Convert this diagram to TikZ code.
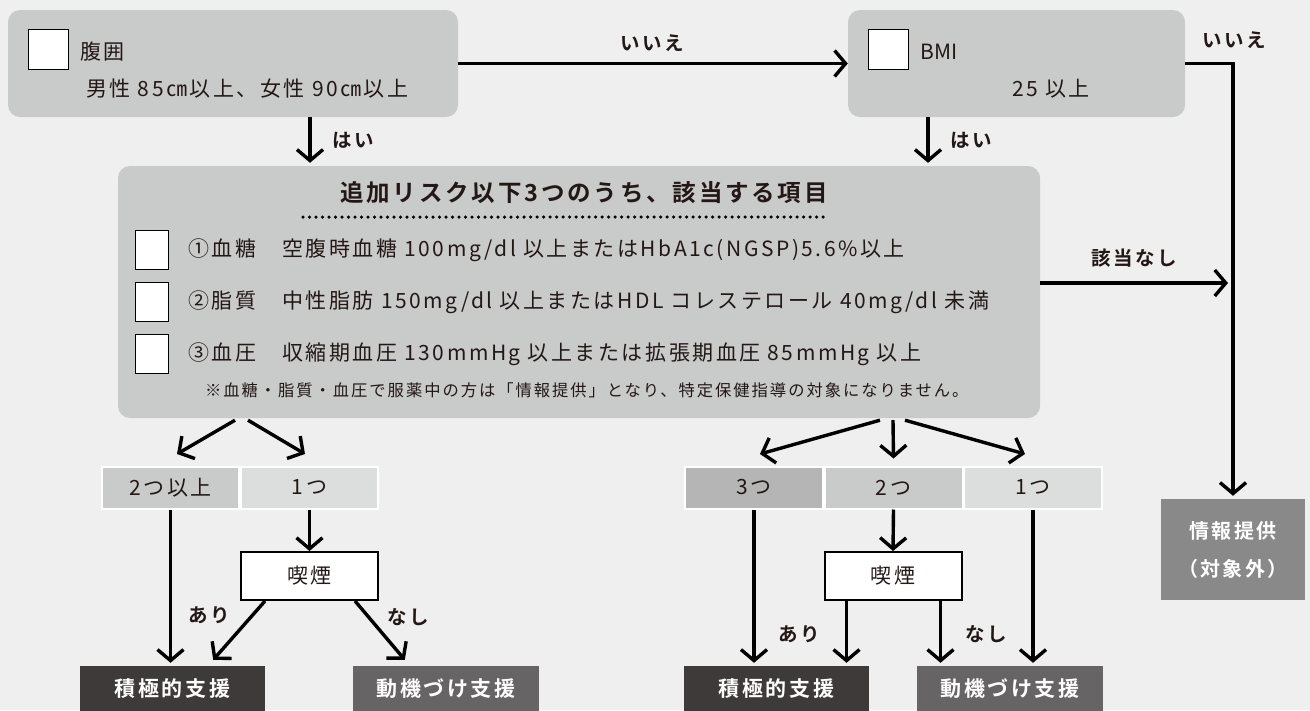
\documentclass[tikz,border=0pt]{standalone}
\usepackage{fontspec}
\setmainfont{Noto Sans CJK JP}[BoldFont={Noto Sans CJK JP Bold}, LetterSpace=12]
\newfontfamily\latnospace{Noto Sans CJK JP}[LetterSpace=2]
\usetikzlibrary{arrows.meta,calc}
\definecolor{bgc}{HTML}{EFEFEF}
\definecolor{boxg}{HTML}{C9CACA}
\definecolor{cdark}{HTML}{B5B5B6}
\definecolor{cmid}{HTML}{C9CACA}
\definecolor{clight}{HTML}{DCDDDD}
\definecolor{sekc}{HTML}{3E3A39}
\definecolor{douc}{HTML}{666464}
\definecolor{infoc}{HTML}{898989}
\definecolor{ink}{HTML}{231815}
\begin{document}
\begin{tikzpicture}[x=1pt,y=-1pt,
  arr/.style={line width=3.4pt, draw=black, -{Straight Barb[length=11pt,width=26pt]}},
  gbox/.style={fill=boxg, rounded corners=12pt, inner sep=0pt},
  cbox/.style={draw=black, fill=white, line width=1.6pt, minimum width=40pt, minimum height=40pt, inner sep=0pt},
  cboxs/.style={draw=black, fill=white, line width=1.6pt, minimum width=33pt, minimum height=39pt, inner sep=0pt},
  txt/.style={inner sep=0pt, text=ink, font=\fontsize{21pt}{25pt}\selectfont},
  ttl/.style={inner sep=0pt, text=ink, font=\fontsize{23.5pt}{27pt}\selectfont\bfseries},
  lbl/.style={inner sep=0pt, text=ink, font=\fontsize{19.5pt}{23pt}\selectfont\bfseries},
  cell/.style={draw=white, line width=2pt, minimum height=42pt, inner sep=0pt, text=ink, font=\fontsize{21pt}{25pt}\selectfont},
  smoke/.style={draw=black, fill=white, line width=2pt, minimum width=137pt, minimum height=48pt, inner sep=0pt, text=ink, font=\fontsize{21pt}{25pt}\selectfont},
  res/.style={minimum height=46pt, inner sep=0pt, text=white, font=\fontsize{21pt}{25pt}\selectfont\bfseries},
  dotline/.style={line width=3.5pt, line cap=round, dash pattern=on 0pt off 6.5pt}
]
\useasboundingbox (0,0) rectangle (1310,710);
\fill[bgc] (0,0) rectangle (1310,710);

% top boxes
\node[gbox, minimum width=450pt, minimum height=107pt] (waist) at (233,63.5) {};
\node[cbox] (cbw) at (48.5,49.5) {};
\node[txt, anchor=west] (waistT) at (80,52) {腹囲};
\node[txt, anchor=west] (waistV) at (86,89) {男性 85㎝以上、女性 90㎝以上};

\node[gbox, minimum width=337pt, minimum height=107pt] (bmi) at (1016.5,63.5) {};
\node[cbox] (cbb) at (888.5,49.5) {};
\node[txt, anchor=west] (bmiT) at (920,52) {\latnospace BMI};
\node[txt] (bmiV) at (1051,89) {25 以上};

% risk box
\node[gbox, minimum width=922pt, minimum height=252pt] (risk) at (579,292) {};
\node[ttl] (riskT) at (584,193) {追加リスク以下3つのうち、該当する項目};
\draw[dotline] (303,217) -- (826,217);
\node[cboxs] (cb1) at (152,250) {};
\node[cboxs] (cb2) at (152,302) {};
\node[cboxs] (cb3) at (152,354) {};
\node[txt, anchor=west] (r1t) at (188,250) {①血糖　空腹時血糖 100mg/dl 以上またはHbA1c(NGSP)5.6\%以上};
\node[txt, anchor=west] (r2t) at (188,302) {②脂質　中性脂肪 150mg/dl 以上またはHDL コレステロール 40mg/dl 未満};
\node[txt, anchor=west] (r3t) at (188,354) {③血圧　収縮期血圧 130mmHg 以上または拡張期血圧 85mmHg 以上};
\node[inner sep=0pt, text=ink, font=\fontsize{16.3pt}{19pt}\selectfont, anchor=west] (note) at (205,390) {※血糖・脂質・血圧で服薬中の方は「情報提供」となり、特定保健指導の対象になりません。};

% cells
\node[cell, fill=cmid, minimum width=137pt] (l2) at (170.5,487.5) {2つ以上};
\node[cell, fill=clight, minimum width=137pt] (l1) at (309.5,487.5) {1つ};
\node[cell, fill=cdark, minimum width=138pt] (q3) at (754,487.5) {3つ};
\node[cell, fill=cmid, minimum width=138pt] (q2) at (893.5,487.5) {2つ};
\node[cell, fill=clight, minimum width=138pt] (q1) at (1033,487.5) {1つ};

% smoking
\node[smoke] (smL) at (309.5,576) {喫煙};
\node[smoke] (smR) at (893,576) {喫煙};

% results
\node[res, fill=sekc, minimum width=185pt] (sekL) at (172.5,689) {積極的支援};
\node[res, fill=douc, minimum width=186pt] (douL) at (446,689) {動機づけ支援};
\node[res, fill=sekc, minimum width=185pt] (sekR) at (776.5,689) {積極的支援};
\node[res, fill=douc, minimum width=186pt] (douR) at (1010,689) {動機づけ支援};
\node[fill=infoc, minimum width=144pt, minimum height=101pt, inner sep=0pt, text=white, align=center,
  font=\fontsize{20pt}{38pt}\selectfont\bfseries] (info) at (1233,549.5) {情報提供\\（対象外）};

% connectors top
\draw[arr] (waist.east) -- (bmi.west);
\node[lbl] (noA) at (652,43) {いいえ};
\draw[arr, shorten >=3pt] (bmi.east) -| (info.north);
\node[lbl] (noB) at (1234,40) {いいえ};
\coordinate (yesA) at ([xshift=77pt]waist.south);
\draw[arr, shorten >=3pt] (yesA) -- (yesA |- risk.north);
\node[lbl] (yesAl) at (353,140) {はい};
\coordinate (yesB) at ([xshift=-88.5pt]bmi.south);
\draw[arr, shorten >=3pt] (yesB) -- (yesB |- risk.north);
\node[lbl] (yesBl) at (971,140) {はい};
\coordinate (nogo) at (1228,283);
\draw[arr] (risk.east |- nogo) -- (nogo);
\node[lbl] (nogol) at (1134,258) {該当なし};

% fans
\draw[arr] ([xshift=-344pt,yshift=-2pt]risk.south) -- ([xshift=6.5pt,yshift=11.5pt]l2.north);
\draw[arr] ([xshift=-331pt,yshift=-2pt]risk.south) -- ([xshift=-4.5pt,yshift=11.5pt]l1.north);
\draw[arr] ([xshift=301pt,yshift=-2pt]risk.south) -- ([xshift=6pt,yshift=11.5pt]q3.north);
\draw[arr] ([xshift=314pt,yshift=-2pt]risk.south) -- ([yshift=7pt]q2.north);
\draw[arr] ([xshift=326pt,yshift=-2pt]risk.south) -- ([xshift=-8pt,yshift=11.5pt]q1.north);

% left lower
\draw[arr, shorten >=3pt] (l2.south) -- (l2.south |- sekL.north);
\draw[arr] (l1.south) -- (smL.north);
\draw[arr] ([xshift=25pt]smL.south west) -- ([xshift=-52pt,yshift=6pt]sekL.north east);
\draw[arr] ([xshift=-24pt]smL.south east) -- ([xshift=52pt,yshift=6pt]douL.north west);
\node[lbl] (ariL) at (209,615) {あり};
\node[lbl] (nasiL) at (408,617) {なし};

% right lower
\draw[arr, shorten >=3pt] (q3.south) -- (q3.south |- sekR.north);
\draw[arr] (q2.south) -- (smR.north);
\coordinate (ar) at ([xshift=23pt]smR.south west);
\coordinate (nr) at ([xshift=-22pt]smR.south east);
\draw[arr, shorten >=3pt] (ar) -- (ar |- sekR.north);
\draw[arr, shorten >=3pt] (nr) -- (nr |- douR.north);
\draw[arr, shorten >=3pt] (q1.south) -- (q1.south |- douR.north);
\node[lbl] (ariR) at (799,634) {あり};
\node[lbl] (nasiR) at (986,634) {なし};
\end{tikzpicture}
\end{document}
